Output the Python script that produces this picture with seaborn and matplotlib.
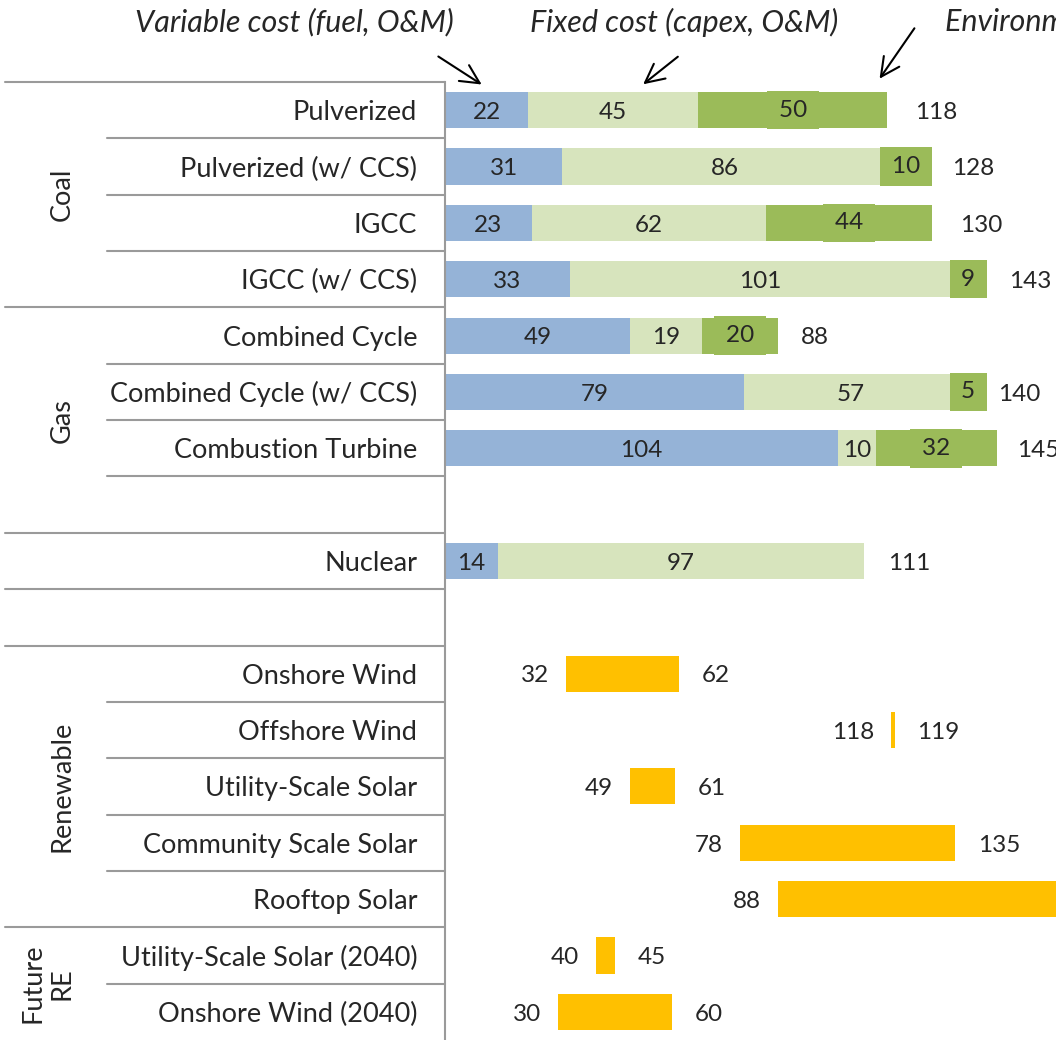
import matplotlib
matplotlib.use("Agg")
import matplotlib.pyplot as plt
import seaborn as sns
import pandas as pd

# rows from top to bottom (blank rows are spacers)
row_keys = ["Pulverized", "Pulverized (w/ CCS)", "IGCC", "IGCC (w/ CCS)",
            "Combined Cycle", "Combined Cycle (w/ CCS)", "Combustion Turbine", "_gap1",
            "Nuclear", "_gap2",
            "Onshore Wind", "Offshore Wind", "Utility-Scale Solar", "Community Scale Solar",
            "Rooftop Solar", "Utility-Scale Solar (2040)", "Onshore Wind (2040)"]

# conventional generation: cost components
conv_tech = ["Pulverized", "Pulverized (w/ CCS)", "IGCC", "IGCC (w/ CCS)",
             "Combined Cycle", "Combined Cycle (w/ CCS)", "Combustion Turbine", "Nuclear"]
variable_cost = [22, 31, 23, 33, 49, 79, 104, 14]
fixed_cost = [45, 86, 62, 101, 19, 57, 10, 97]
env_cost = [50, 10, 44, 9, 20, 5, 32, 0]
total_cost = [118, 128, 130, 143, 88, 140, 145, 111]

# renewables: low / high range
re_tech = ["Onshore Wind", "Offshore Wind", "Utility-Scale Solar", "Community Scale Solar",
           "Rooftop Solar", "Utility-Scale Solar (2040)", "Onshore Wind (2040)"]
re_low = [32, 118, 49, 78, 88, 40, 30]
re_high = [62, 119, 61, 135, 193, 45, 60]

groups = [("Coal", 0, 3), ("Gas", 4, 7), ("Renewable", 10, 14), ("Future\nRE", 15, 16)]
full_lines = [-0.5, 3.5, 7.5, 8.5, 9.5, 14.5]
sub_lines = [0.5, 1.5, 2.5, 4.5, 5.5, 6.5, 10.5, 11.5, 12.5, 13.5, 15.5]

c_var = "#95B3D7"
c_fix = "#D7E4BD"
c_env = "#9BBB59"
c_re = "#FFC000"
c_line = "#9A9A9A"

sns.set_style("white")
plt.rcParams["font.family"] = ["Lato", "DejaVu Sans"]

df = pd.DataFrame({"tech": conv_tech, "var": variable_cost, "fix": fixed_cost, "env": env_cost})
df["var_fix"] = df["var"] + df["fix"]
df["all"] = df["var_fix"] + df["env"]

fig = plt.figure(figsize=(10.56, 10.40), dpi=100)
ax = fig.add_axes([445 / 1056, 0, 611 / 1056, 958 / 1040])

bh = 0.64
# overlay stacked bars: biggest first
sns.barplot(data=df, x="all", y="tech", order=row_keys, orient="h", color=c_env,
            saturation=1, width=bh, ax=ax, linewidth=0)
sns.barplot(data=df, x="var_fix", y="tech", order=row_keys, orient="h", color=c_fix,
            saturation=1, width=bh, ax=ax, linewidth=0)
sns.barplot(data=df, x="var", y="tech", order=row_keys, orient="h", color=c_var,
            saturation=1, width=bh, ax=ax, linewidth=0)

pos = {k: i for i, k in enumerate(row_keys)}
fs = 17.5
for _, r in df.iterrows():
    y = pos[r["tech"]] + 0.04
    ax.text(r["var"] / 2, y, str(r["var"]), ha="center", va="center", fontsize=fs)
    ax.text(r["var"] + r["fix"] / 2, y, str(r["fix"]), ha="center", va="center", fontsize=fs)
    if r["env"] > 0:
        ax.text(r["var_fix"] + r["env"] / 2, pos[r["tech"]], "\u2009%d\u2009" % r["env"],
                ha="center", va="center", fontsize=fs,
                bbox=dict(boxstyle="square,pad=0.36", fc=c_env, ec="none"))
for t, tot in zip(conv_tech, total_cost):
    ax.text(tot + 6.3, pos[t] + 0.04, str(tot), ha="left", va="center", fontsize=fs)

# renewable ranges
re_y = [pos[t] for t in re_tech]
ax.barh(re_y, [h - l for l, h in zip(re_low, re_high)], left=re_low, height=bh,
        color=c_re, linewidth=0)
for y, lo, hi in zip(re_y, re_low, re_high):
    ax.text(lo - 4.5, y + 0.04, str(lo), ha="right", va="center", fontsize=fs)
    ax.text(hi + 6, y + 0.04, str(hi), ha="left", va="center", fontsize=fs)

ax.set_xlim(0, 161.7)
ax.set_ylim(16.5, -0.5)
ax.set_xlabel("")
ax.set_ylabel("")
ax.set_xticks([])
ax.set_yticks(range(len(row_keys)))
ax.set_yticklabels(["" if k.startswith("_") else k for k in row_keys], fontsize=19.5)
ax.tick_params(axis="y", length=0, pad=20)
for s in ["top", "right", "bottom"]:
    ax.spines[s].set_visible(False)
ax.spines["left"].set_color(c_line)
ax.spines["left"].set_linewidth(1.5)

# table lines on the left
tr = ax.get_yaxis_transform()
for yl in full_lines:
    ax.plot([-0.72, 0], [yl, yl], color=c_line, lw=1.5, transform=tr, clip_on=False)
for yl in sub_lines:
    ax.plot([-0.553, 0], [yl, yl], color=c_line, lw=1.5, transform=tr, clip_on=False)
for name, a, b in groups:
    xg = -0.65 if "\n" in name else -0.627
    ax.text(xg, (a + b) / 2, name, rotation=90, ha="center", va="center",
            fontsize=19.5, transform=tr, linespacing=1.2)

# header annotations
for x0, label in [(135, "Variable cost (fuel, O&M)"), (530, "Fixed cost (capex, O&M)"),
                  (945, "Environmental cost")]:
    fig.text(x0 / 1056, 1 - 22 / 1040, label, fontsize=22, style="italic",
             ha="left", va="center")
arrows = [((436, 55), (484, 86)), ((680, 55), (641, 86)), ((916, 26), (878, 81))]
for (x0, y0), (x1, y1) in arrows:
    fig.add_artist(matplotlib.patches.FancyArrowPatch(
        (x0 / 1056, 1 - y0 / 1040), (x1 / 1056, 1 - y1 / 1040),
        transform=fig.transFigure, arrowstyle="->,head_length=9,head_width=4.5",
        color="black", lw=1.5, mutation_scale=1.5))

fig.savefig("out.png", dpi=100)
